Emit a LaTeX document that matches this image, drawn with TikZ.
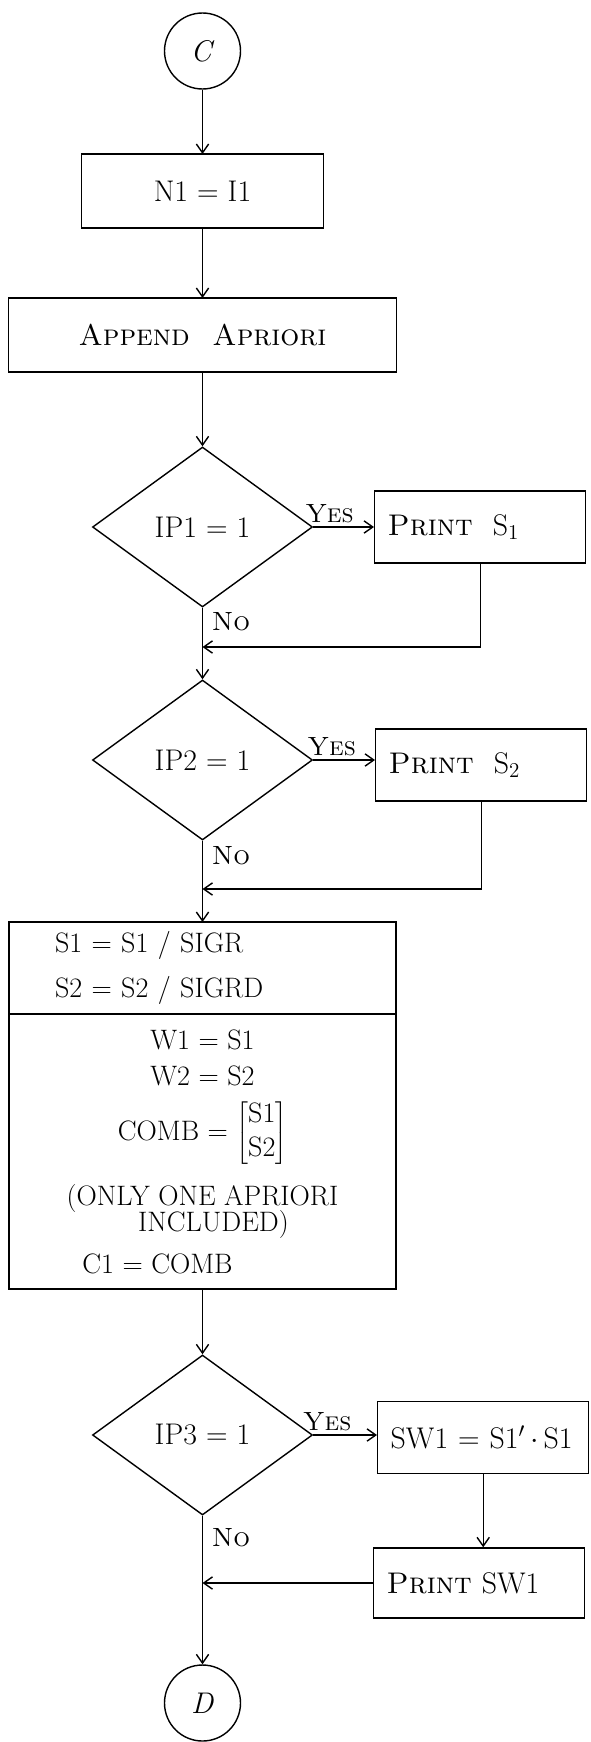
\documentclass[tikz,border=0pt]{standalone}
\usepackage{fontspec}
\usepackage{tikz}
\usetikzlibrary{positioning,shapes.geometric,arrows.meta,calc}

\begin{document}
\begin{tikzpicture}[
  >={Straight Barb[length=5pt,width=7pt]},
  line width=0.8pt,
  every node/.style={font=\fontsize{17}{20}\selectfont},
  procbox/.style={draw, rectangle, minimum height=1.48cm, inner sep=0pt, outer sep=0pt},
  sidebox/.style={draw, rectangle, anchor=west, minimum height=1.44cm,
    text width=3.7cm, inner xsep=0.26cm, align=left},
  decision/.style={draw, diamond, aspect=1.375, inner sep=0pt,
    minimum width=4.4cm, minimum height=3.2cm},
  termcirc/.style={draw, circle, minimum size=1.52cm, inner sep=0pt},
  lbl/.style={inner sep=2pt, font=\fontsize{15}{18}\selectfont},
  blocktext/.style={font=\fontsize{16}{19}\selectfont},
]
\useasboundingbox (0,0) rectangle (11.8,-34.84);

% Connector in and first steps
\node[termcirc] (startC) at (4.05,-1.02) {\textit{C}};
\node[procbox, minimum width=4.84cm] (setN) at (4.05,-3.82) {N1 = I1};
\node[procbox, minimum width=7.76cm] (append) at (4.05,-6.70) {\textsc{Append\ \ Apriori}};

% First print switch
\node[decision] (testA) at (4.05,-10.54) {IP1 = 1};
\node[sidebox] (printA) at (7.48,-10.54) {\textsc{Print}\ \ S$_1$};
\coordinate (joinA) at (4.05,-12.94);

% Second print switch
\node[decision] (testB) at (4.05,-15.2) {IP2 = 1};
\node[sidebox] (printB) at (7.5,-15.3) {\textsc{Print}\ \ S$_2$};
\coordinate (joinB) at (4.05,-17.78);

% Scaling and weights
\node[procbox, blocktext, minimum width=7.74cm, minimum height=1.84cm,
  text width=5.9cm, align=left] (scale) at (4.05,-19.36)
  {S1 = S1 / SIGR\\[7pt] S2 = S2 / SIGRD};
\node[procbox, blocktext, minimum width=7.74cm, minimum height=5.5cm, anchor=north,
  align=center] (weights) at (scale.south)
  {\mbox{}\\[-0.25cm]
   W1 = S1\\[1pt]
   W2 = S2\\[7pt]
   COMB = $\left[\begin{array}{@{}c@{}}\mathrm{S1}\\ \mathrm{S2}\end{array}\right]$\hspace*{1.8cm}\\[9pt]
   (ONLY ONE APRIORI\\[-4pt]
   \hspace*{0.44cm}INCLUDED)\\[5pt]
   C1 = COMB\hspace*{1.8cm}};

% Third switch
\node[decision] (testC) at (4.05,-28.7) {IP3 = 1};
\node[sidebox] (calcSW) at (7.54,-28.75) {SW1 = S1$'$\,$\cdot$\,S1};
\node[sidebox, minimum height=1.4cm] (printSW) at (7.46,-31.66) {\textsc{Print} SW1};
\coordinate (joinC) at (printSW.west -| testC.south);

% Connector out
\node[termcirc] (endD) at (4.05,-34.06) {\textit{D}};

% Flow lines
\draw[->] (startC) -- (setN);
\draw[->] (setN) -- (append);
\draw[->] (append) -- (testA);
\draw[->] (testA.east) -- node[lbl, above, pos=0.27] {\textsc{Yes}} (testA.east -| printA.west);
\draw[->] (testA.south) -- node[lbl, right, pos=0.2, xshift=3pt] {\textsc{No}} (testB.north);
\draw[->] (printA.south) |- (joinA);
\draw[->] (testB.east) -- node[lbl, above, pos=0.3] {\textsc{Yes}} (testB.east -| printB.west);
\draw[->] (testB.south) -- node[lbl, right, pos=0.19, xshift=3pt] {\textsc{No}} (scale.north);
\draw[->] (printB.south) |- (joinB);
\draw[->] (weights.south) -- (testC.north);
\draw[->] (testC.east) -- node[lbl, above, pos=0.22] {\textsc{Yes}} (testC.east -| calcSW.west);
\draw[->] (calcSW.south) -- (calcSW.south |- printSW.north);
\draw[->] (printSW.west) -- (joinC);
\draw[->] (testC.south) -- node[lbl, right, pos=0.15, xshift=3pt] {\textsc{No}} (endD);
\end{tikzpicture}
\end{document}
